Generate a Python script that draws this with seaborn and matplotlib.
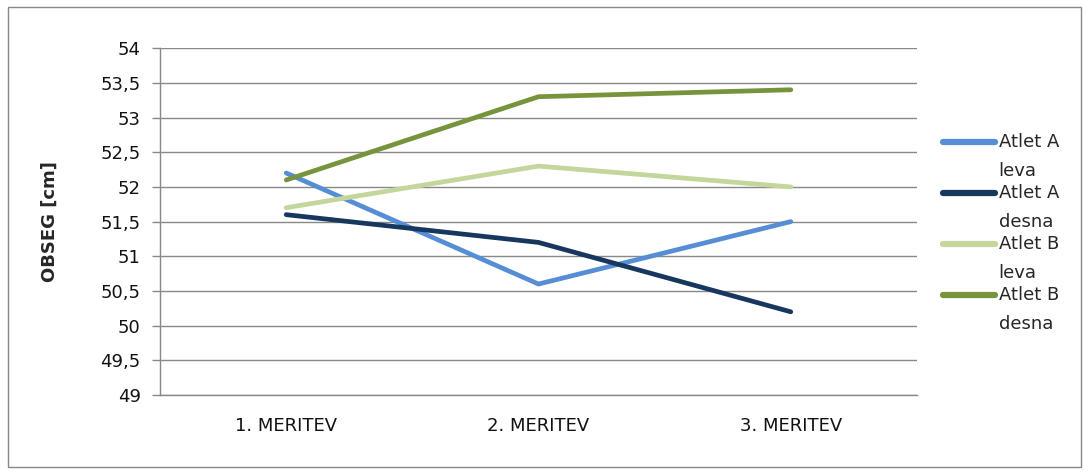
import pandas as pd
import matplotlib.pyplot as plt
import seaborn as sns
from matplotlib.patches import Rectangle
from matplotlib.lines import Line2D

# data
meritve = ['1. MERITEV', '2. MERITEV', '3. MERITEV']
atlet_a_leva = [52.2, 50.6, 51.5]
atlet_a_desna = [51.6, 51.2, 50.2]
atlet_b_leva = [51.7, 52.3, 52.0]
atlet_b_desna = [52.1, 53.3, 53.4]
serije = ['Atlet A leva', 'Atlet A desna', 'Atlet B leva', 'Atlet B desna']
barve = ['#558ED5', '#17375E', '#C3D69B', '#77933C']
y_ticks = [49, 49.5, 50, 50.5, 51, 51.5, 52, 52.5, 53, 53.5, 54]

rows = []
for name, vals in zip(serije, [atlet_a_leva, atlet_a_desna, atlet_b_leva, atlet_b_desna]):
    for i, v in enumerate(vals):
        rows.append({'meritev': i, 'serija': name, 'obseg': v})
df = pd.DataFrame(rows)

sns.set_style('white')
plt.rcParams['font.family'] = ['DejaVu Sans']
FS = 13

fig = plt.figure(figsize=(10.89, 4.72), dpi=100)
ax = fig.add_axes([0.147, 0.163, 0.695, 0.735])

sns.lineplot(data=df, x='meritev', y='obseg', hue='serija', hue_order=serije,
             palette=barve, linewidth=3.4, sort=False, ax=ax, legend=False)

ax.set_xlim(-0.5, 2.5)
ax.set_ylim(49, 54)
ax.set_yticks(y_ticks)
ax.set_yticklabels([f'{t:g}'.replace('.', ',') for t in y_ticks], fontsize=FS, color='#111111')
ax.set_xticks([0, 1, 2])
ax.set_xticklabels(meritve, fontsize=FS, color='#111111')
ax.set_xticks([-0.5, 0.5, 1.5, 2.5], minor=True)
ax.tick_params(axis='x', which='major', length=0, pad=16)
ax.tick_params(axis='x', which='minor', length=6, color='#888888', width=1)
ax.tick_params(axis='y', length=6, color='#888888', width=1, left=True, pad=8)
ax.grid(axis='y', color='#888888', linewidth=1)
ax.set_axisbelow(True)
for s in ['top', 'right']:
    ax.spines[s].set_visible(False)
for s in ['left', 'bottom']:
    ax.spines[s].set_color('#888888')
    ax.spines[s].set_linewidth(1)
ax.set_xlabel('')
ax.set_ylabel('OBSEG [cm]', fontsize=FS, fontweight='bold', labelpad=30)

# legend drawn by hand: handle beside first line, second line wraps below
for i, (name, c) in enumerate(zip(serije, barve)):
    y = 1 - (142 + 51 * i) / 472
    prvi, drugi = name.rsplit(' ', 1)
    fig.add_artist(Line2D([0.866, 0.914], [y, y], color=c, linewidth=4.5,
                          solid_capstyle='round', transform=fig.transFigure))
    fig.text(0.917, y, prvi, fontsize=FS, va='center', ha='left')
    fig.text(0.917, y - 29 / 472, drugi, fontsize=FS, va='center', ha='left')

fig.patches.append(Rectangle((0.007, 0.01), 0.986, 0.975, transform=fig.transFigure,
                             fill=False, edgecolor='#888888', linewidth=1))

fig.savefig('out.png', dpi=100)
